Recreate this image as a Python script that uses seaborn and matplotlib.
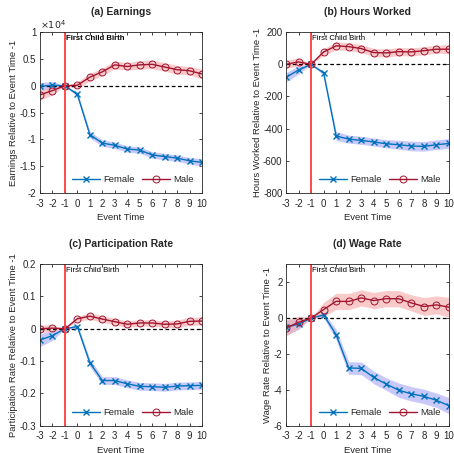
import matplotlib
matplotlib.use("Agg")
import matplotlib.pyplot as plt
import seaborn as sns
import numpy as np
import pandas as pd
from matplotlib.ticker import FuncFormatter

sns.set_style("ticks")
plt.rcParams['font.family'] = ['Liberation Sans', 'DejaVu Sans']
plt.rcParams['axes.unicode_minus'] = False

event_time = list(range(-3, 11))

titles = ["(a) Earnings", "(b) Hours Worked", "(c) Participation Rate", "(d) Wage Rate"]
ylabels = ["Earnings Relative to Event Time -1",
           "Hours Worked Relative to Event Time -1",
           "Participation Rate Relative to Event Time -1",
           "Wage Rate Relative to Event Time -1"]

# (a) Earnings
earn_f = [-100, 100, 0, -1600, -9100, -10700, -11100, -11800, -12000, -12900, -13200, -13500, -14000, -14300]
earn_m = [-1700, -900, 0, 100, 1600, 2600, 3900, 3600, 3900, 4000, 3500, 3000, 2800, 2200]
earn_f_hw = [700, 700, 0, 500, 600, 600, 600, 600, 600, 600, 600, 600, 600, 700]
earn_m_hw = [1000, 800, 0, 600, 700, 700, 700, 700, 800, 800, 800, 800, 800, 900]

# (b) Hours worked
hours_f = [-81, -35, 0, -54, -446, -465, -473, -483, -494, -500, -508, -510, -500, -492]
hours_m = [0, 15, 0, 77, 115, 110, 98, 73, 71, 79, 77, 85, 94, 94]
hours_f_hw = [30, 25, 0, 15, 28, 25, 25, 25, 25, 28, 30, 30, 30, 30]
hours_m_hw = [25, 25, 0, 20, 25, 25, 25, 25, 25, 25, 25, 25, 25, 28]

# (c) Participation rate
part_f = [-0.035, -0.021, 0, 0.007, -0.105, -0.160, -0.160, -0.170, -0.178, -0.179, -0.181, -0.177, -0.176, -0.175]
part_m = [0.0, 0.002, 0, 0.031, 0.039, 0.030, 0.022, 0.014, 0.018, 0.018, 0.014, 0.015, 0.023, 0.024]
part_f_hw = [0.02, 0.015, 0, 0.008, 0.012, 0.012, 0.012, 0.012, 0.012, 0.012, 0.012, 0.012, 0.012, 0.012]
part_m_hw = [0.012, 0.01, 0, 0.008, 0.01, 0.01, 0.01, 0.01, 0.01, 0.01, 0.01, 0.012, 0.012, 0.013]

# (d) Wage rate
wage_f = [-0.52, -0.34, 0, 0.17, -0.93, -2.78, -2.80, -3.31, -3.68, -4.02, -4.22, -4.36, -4.58, -4.88]
wage_m = [-0.56, -0.24, 0, 0.47, 0.93, 0.92, 1.12, 0.97, 1.08, 1.07, 0.84, 0.64, 0.73, 0.60]
wage_f_hw = [0.4, 0.3, 0, 0.15, 0.3, 0.35, 0.35, 0.35, 0.35, 0.4, 0.4, 0.4, 0.4, 0.45]
wage_m_hw = [0.45, 0.35, 0, 0.4, 0.45, 0.45, 0.45, 0.45, 0.45, 0.45, 0.45, 0.5, 0.5, 0.55]

panels = [
    (earn_f, earn_m, earn_f_hw, earn_m_hw, (-20000, 10000), np.arange(-20000, 10001, 5000)),
    (hours_f, hours_m, hours_f_hw, hours_m_hw, (-800, 200), np.arange(-800, 201, 200)),
    (part_f, part_m, part_f_hw, part_m_hw, (-0.3, 0.2), np.arange(-0.3, 0.21, 0.1)),
    (wage_f, wage_m, wage_f_hw, wage_m_hw, (-6, 3), np.arange(-6, 3, 2)),
]

positions = [
    [0.088, 0.574, 0.357, 0.355],
    [0.630, 0.574, 0.359, 0.355],
    [0.088, 0.060, 0.357, 0.357],
    [0.630, 0.060, 0.359, 0.357],
]

blue = '#0072BD'
red = '#A2142F'
blue_band = '#b8b8f8'
red_band = '#f5a8a8'
tcol = '#262626'

fig = plt.figure(figsize=(4.54, 4.53), dpi=100)

for i, (fv, mv, fhw, mhw, ylim, yticks) in enumerate(panels):
    ax = fig.add_axes(positions[i])
    df = pd.DataFrame({"t": event_time, "f": fv, "m": mv, "fhw": fhw, "mhw": mhw})
    ax.fill_between(df["t"], df["f"] - df["fhw"], df["f"] + df["fhw"], color=blue_band, alpha=0.75, lw=0)
    ax.fill_between(df["t"], df["m"] - df["mhw"], df["m"] + df["mhw"], color=red_band, alpha=0.6, lw=0)
    ax.axhline(0, color='black', ls='--', lw=0.9, dashes=(3, 2))
    sns.lineplot(data=df, x="t", y="f", ax=ax, color=blue, marker='x', markersize=4,
                 markeredgecolor=blue, markeredgewidth=1.0, lw=1.0, label="Female")
    sns.lineplot(data=df, x="t", y="m", ax=ax, color=red, marker='o', markersize=5,
                 markerfacecolor='none', markeredgecolor=red, markeredgewidth=0.7, lw=1.0, label="Male")
    ax.axvline(-1, color='#ff3b3b', lw=1.3)
    ax.text(-0.93, ylim[1] - 0.02 * (ylim[1] - ylim[0]), "First Child Birth", fontsize=5.6,
            va='top', ha='left', color='black', fontweight='bold' if i == 0 else 'normal')
    ax.set_xlim(-3, 10)
    ax.set_ylim(*ylim)
    ax.set_xticks(event_time)
    ax.set_yticks(yticks)
    if i == 0:
        ax.yaxis.set_major_formatter(FuncFormatter(lambda v, p: f"{v/1e4:g}"))
        ax.text(0.0, 1.005, r"$\times10^4$", transform=ax.transAxes, fontsize=6.8,
                color=tcol, ha='left', va='bottom')
    else:
        ax.yaxis.set_major_formatter(FuncFormatter(lambda v, p: f"{round(v, 3):g}"))
    ax.tick_params(direction='in', length=2.5, width=0.6, labelsize=7, colors=tcol,
                   top=True, right=True, pad=2.5)
    ax.tick_params(axis='x', pad=4)
    for s in ax.spines.values():
        s.set_linewidth(0.6)
        s.set_color(tcol)
        s.set_visible(True)
    ax.set_xlabel("Event Time", fontsize=6.8, color=tcol, labelpad=3)
    ax.set_ylabel(ylabels[i], fontsize=6.8, color=tcol, labelpad=1)
    ax.set_title(titles[i], fontsize=7.5, fontweight='bold', pad=12)
    ax.legend(loc='lower right', ncol=2, frameon=False, fontsize=6.8, handlelength=3.0,
              columnspacing=0.8, handletextpad=0.3, borderaxespad=0.5)

fig.savefig("out.png", dpi=100)
